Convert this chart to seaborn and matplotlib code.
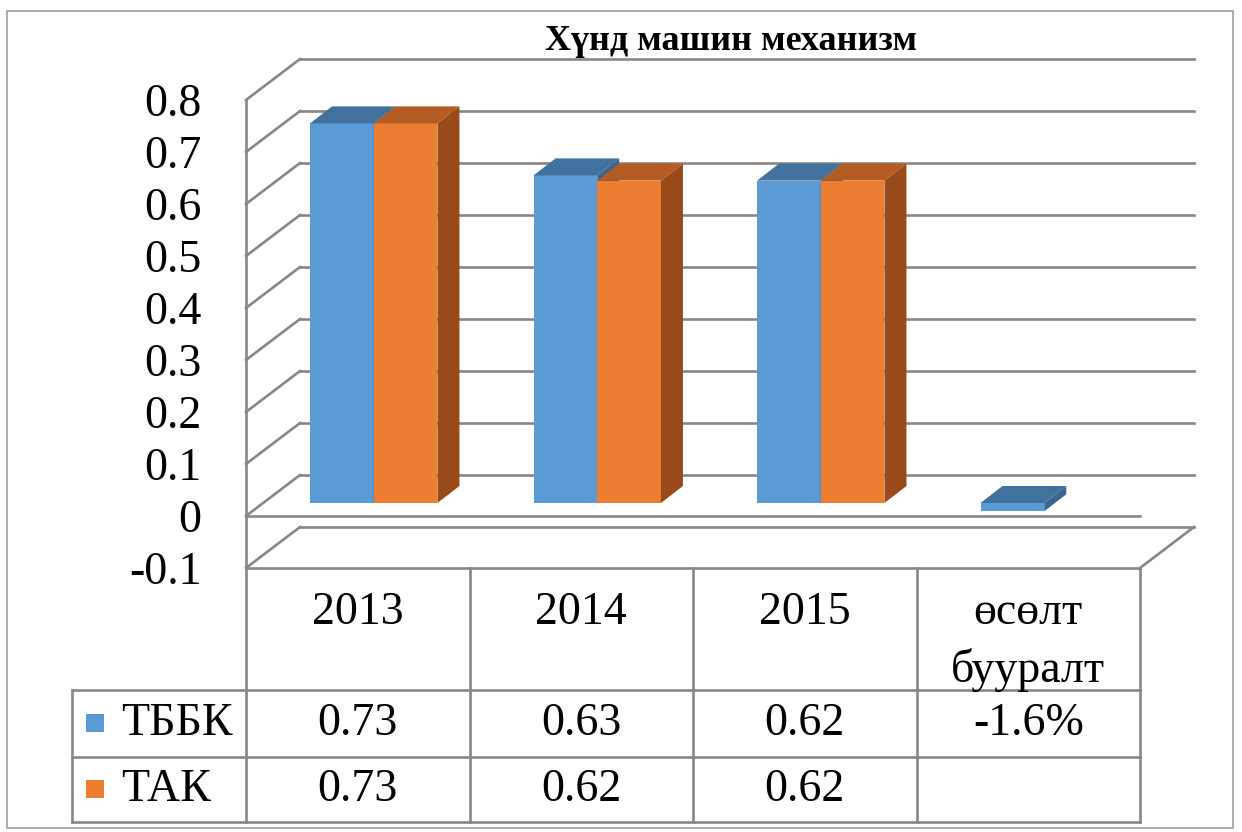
import numpy as np
import pandas as pd
import matplotlib
matplotlib.use("Agg")
import matplotlib.pyplot as plt
import matplotlib.transforms as mtransforms
from matplotlib.patches import Polygon, Rectangle
from matplotlib.lines import Line2D
import seaborn as sns

# ---------------- data ----------------
title = "Хүнд машин механизм"
categories = ["2013", "2014", "2015", "өсөлт\nбууралт"]
series_names = ["ТББК", "ТАК"]
tbbk_values = [0.73, 0.63, 0.62, -0.016]
tak_values = [0.73, 0.62, 0.62, np.nan]
tbbk_labels = ["0.73", "0.63", "0.62", "-1.6%"]
tak_labels = ["0.73", "0.62", "0.62", ""]
y_ticks = [-0.1, 0.0, 0.1, 0.2, 0.3, 0.4, 0.5, 0.6, 0.7, 0.8]
y_tick_labels = ["-0.1", "0", "0.1", "0.2", "0.3", "0.4", "0.5", "0.6", "0.7", "0.8"]

# ---------------- style ----------------
W, H = 1242, 832
BLUE, ORANGE = "#5B9BD5", "#ED7D31"
TOP = {BLUE: "#41719C", ORANGE: "#B35B21"}
SIDE = {BLUE: "#3A6590", ORANGE: "#984A1B"}
GRID = "#878787"
LW = 1.9
FS = 33

sns.set_theme(style="white")
plt.rcParams["font.family"] = ["Liberation Serif", "DejaVu Serif"]

fig = plt.figure(figsize=(W / 100, H / 100), dpi=100)
fig.patch.set_facecolor("white")

# front plane axes
ax = fig.add_axes([246 / W, 1 - 568 / H, 894 / W, 468 / H])

df = pd.DataFrame({
    "category": categories * 2,
    "series": [series_names[0]] * 4 + [series_names[1]] * 4,
    "value": tbbk_values + tak_values,
}).dropna()

sns.barplot(data=df, x="category", y="value", hue="series", order=categories,
            hue_order=series_names, palette=[BLUE, ORANGE], width=0.57,
            saturation=1, errorbar=None, legend=False, linewidth=0, ax=ax)

ax.set_xlim(-0.5, 3.5)
ax.set_ylim(-0.1, 0.8)
ppx = 894 / 4.0      # pixels per category
ppy = 468 / 0.9      # pixels per value unit
WALL_DX, WALL_DY = 54 / ppx, 41 / ppy
FRONT_DX, FRONT_DY = 16 / ppx, 13 / ppy
BAR_DX, BAR_DY = 22 / ppx, 17 / ppy

# walls / gridlines
kw = dict(color=GRID, lw=LW, clip_on=False, zorder=1, solid_capstyle="projecting")
for v in y_ticks:
    ax.plot([-0.5 + WALL_DX, 3.5 + WALL_DX], [v + WALL_DY, v + WALL_DY], **kw)
    ax.plot([-0.5, -0.5 + WALL_DX], [v, v + WALL_DY], **kw)
ax.plot([-0.5, -0.5], [-0.1, 0.8], **kw)
ax.plot([-0.5, 3.5], [0, 0], **kw)
ax.plot([-0.5, 3.5], [-0.1, -0.1], **kw)
ax.plot([3.5, 3.5 + WALL_DX], [-0.1, -0.1 + WALL_DY], **kw)

# 3D faces for bars
bars = [p for p in ax.patches if np.isfinite(p.get_height()) and p.get_height() != 0]
bars.sort(key=lambda p: p.get_x())
for i, p in enumerate(bars):
    fc = matplotlib.colors.to_hex(p.get_facecolor())
    key = BLUE if fc.lower() == BLUE.lower() else ORANGE
    p.set_x(p.get_x() + FRONT_DX)
    p.set_y(p.get_y() + FRONT_DY)
    z = 2 + i * 0.01
    p.set_zorder(z)
    x0 = p.get_x()
    x1 = x0 + p.get_width()
    y0 = p.get_y()
    y1 = y0 + p.get_height()
    yt, yb = max(y0, y1), min(y0, y1)
    top = Polygon([(x0, yt), (x1, yt), (x1 + BAR_DX, yt + BAR_DY), (x0 + BAR_DX, yt + BAR_DY)],
                  closed=True, facecolor=TOP[key], edgecolor="none", zorder=z, clip_on=False)
    side = Polygon([(x1, yb), (x1, yt), (x1 + BAR_DX, yt + BAR_DY), (x1 + BAR_DX, yb + BAR_DY)],
                   closed=True, facecolor=SIDE[key], edgecolor="none", zorder=z, clip_on=False)
    ax.add_patch(side)
    ax.add_patch(top)

# axes cosmetics
for s in ax.spines.values():
    s.set_visible(False)
ax.set_facecolor("none")
ax.set_xticks([])
ax.set_xlabel("")
ax.set_ylabel("")
ax.set_yticks(y_ticks, y_tick_labels)
ax.tick_params(axis="y", length=0, pad=32, labelsize=FS, labelcolor="black")
for t in ax.get_yticklabels():
    t.set_fontfamily(["Liberation Serif", "DejaVu Serif"])

# title
fig.text(731 / W, 1 - 42 / H, title, ha="center", va="center", fontsize=26,
         fontweight="bold", color="black")

# ---------------- data table ----------------
pix = mtransforms.Affine2D().scale(1 / W, -1 / H).translate(0, 1) + fig.transFigure
colx = mtransforms.blended_transform_factory(ax.transData, pix)

tkw = dict(color=GRID, lw=LW, solid_capstyle="projecting")
row_y = [690, 757, 822]
for y in row_y:
    fig.add_artist(Line2D([72, 1140], [y, y], transform=pix, **tkw))
fig.add_artist(Line2D([72, 72], [690, 822], transform=pix, **tkw))
for xb in [-0.5, 0.5, 1.5, 2.5, 3.5]:
    fig.add_artist(Line2D([xb, xb], [568, 822], transform=colx, **tkw))

for i, cat in enumerate(categories):
    fig.text(i, 592, cat, transform=colx, ha="center", va="top", fontsize=FS,
             linespacing=1.4, color="black")
    fig.text(i, 724, tbbk_labels[i], transform=colx, ha="center", va="center",
             fontsize=FS, color="black")
    fig.text(i, 790, tak_labels[i], transform=colx, ha="center", va="center",
             fontsize=FS, color="black")

for name, col, yc in [(series_names[0], BLUE, 723), (series_names[1], ORANGE, 789)]:
    fig.add_artist(Rectangle((86, yc - 9), 18, 18, transform=pix, facecolor=col,
                             edgecolor="none"))
    fig.text(121, yc + 1, name, transform=pix, ha="left", va="center",
             fontsize=FS, color="black")

# outer border
fig.add_artist(Rectangle((7, 11), 1226, 817, transform=pix, facecolor="none",
                         edgecolor="#A0A0A0", lw=1.2))

fig.savefig("out.png", dpi=100, facecolor="white")
